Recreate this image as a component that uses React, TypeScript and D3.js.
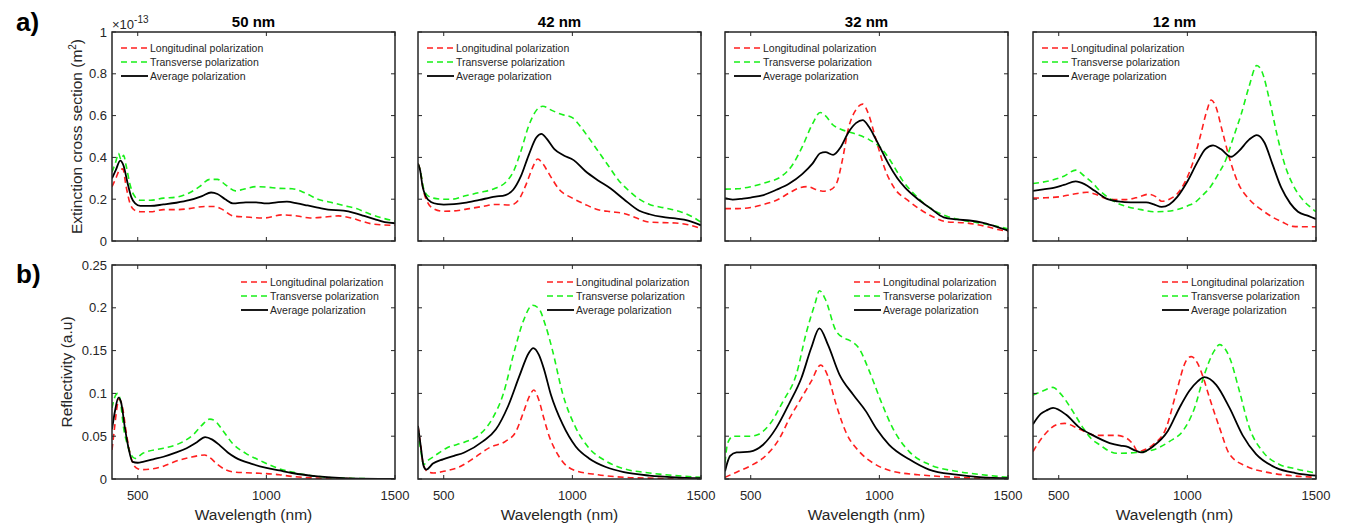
import React from "react";
import * as d3 from "d3";

// ---------- data ----------
const panelTitles = ["50 nm", "42 nm", "32 nm", "12 nm"];
const seriesNames = ["Longitudinal polarization", "Transverse polarization", "Average polarization"];
const xTicks = [500, 1000, 1500];
const xTickLabels = ["500", "1000", "1500"];
const extTicks = [0, 0.2, 0.4, 0.6, 0.8, 1];
const extTickLabels = ["0", "0.2", "0.4", "0.6", "0.8", "1"];
const refTicks = [0, 0.05, 0.1, 0.15, 0.2, 0.25];
const refTickLabels = ["0", "0.05", "0.1", "0.15", "0.2", "0.25"];

// Extinction cross section (x1e-13 m^2)
const ext50L = [[400,0.26],[415,0.30],[430,0.34],[442,0.345],[455,0.26],[470,0.18],[485,0.15],[510,0.14],[550,0.14],[600,0.15],[650,0.15],[700,0.155],[760,0.165],[800,0.165],[830,0.15],[870,0.12],[920,0.115],[990,0.11],[1060,0.125],[1120,0.12],[1170,0.11],[1230,0.115],[1280,0.12],[1330,0.11],[1370,0.095],[1420,0.08],[1500,0.075]];
const ext50T = [[400,0.33],[415,0.38],[425,0.42],[435,0.39],[445,0.41],[455,0.36],[470,0.27],[485,0.22],[510,0.195],[550,0.195],[600,0.205],[650,0.21],[700,0.23],[740,0.26],[780,0.295],[810,0.295],[840,0.27],[880,0.24],[920,0.25],[960,0.26],[1000,0.258],[1050,0.252],[1100,0.25],[1150,0.23],[1200,0.2],[1250,0.185],[1300,0.17],[1350,0.155],[1400,0.13],[1450,0.11],[1500,0.095]];
const ext50A = [[400,0.30],[415,0.34],[432,0.385],[445,0.36],[460,0.28],[475,0.21],[490,0.18],[510,0.168],[550,0.168],[600,0.175],[650,0.183],[700,0.195],[750,0.215],[785,0.232],[810,0.225],[840,0.2],[870,0.18],[920,0.185],[960,0.185],[1000,0.18],[1040,0.185],[1080,0.188],[1120,0.18],[1160,0.17],[1200,0.16],[1240,0.15],[1300,0.145],[1340,0.135],[1380,0.12],[1420,0.105],[1460,0.09],[1500,0.085]];

const ext42L = [[400,0.37],[410,0.33],[420,0.25],[435,0.19],[460,0.155],[500,0.142],[550,0.145],[600,0.155],[650,0.165],[700,0.175],[760,0.172],[790,0.195],[820,0.27],[845,0.35],[865,0.392],[885,0.37],[910,0.32],[950,0.245],[1000,0.205],[1050,0.175],[1100,0.15],[1150,0.14],[1200,0.132],[1250,0.11],[1290,0.092],[1350,0.088],[1400,0.086],[1450,0.078],[1500,0.06]];
const ext42T = [[400,0.37],[410,0.33],[420,0.26],[435,0.22],[460,0.205],[500,0.2],[530,0.2],[580,0.215],[640,0.232],[700,0.252],[740,0.28],[770,0.33],[800,0.43],[830,0.55],[860,0.625],[885,0.645],[920,0.625],[960,0.605],[1000,0.59],[1030,0.55],[1060,0.5],[1100,0.43],[1140,0.36],[1180,0.29],[1220,0.24],[1260,0.2],[1300,0.175],[1360,0.158],[1420,0.14],[1460,0.12],[1500,0.09]];
const ext42A = [[400,0.37],[408,0.34],[418,0.26],[430,0.215],[450,0.187],[480,0.176],[500,0.174],[540,0.176],[580,0.182],[640,0.197],[700,0.212],[740,0.22],[770,0.245],[800,0.31],[830,0.41],[860,0.495],[880,0.513],[900,0.49],[930,0.44],[965,0.41],[1005,0.387],[1050,0.335],[1100,0.29],[1150,0.25],[1200,0.2],[1260,0.145],[1300,0.128],[1350,0.115],[1400,0.108],[1450,0.098],[1500,0.075]];

const ext32L = [[400,0.155],[450,0.155],[500,0.16],[550,0.175],[600,0.195],[650,0.23],[690,0.255],[720,0.26],[750,0.248],[780,0.238],[810,0.245],[835,0.28],[855,0.38],[880,0.54],[910,0.63],[935,0.655],[960,0.6],[980,0.515],[1000,0.43],[1020,0.35],[1060,0.25],[1110,0.195],[1160,0.15],[1210,0.115],[1260,0.092],[1340,0.086],[1420,0.068],[1460,0.055],[1500,0.046]];
const ext32T = [[400,0.248],[450,0.25],[500,0.26],[560,0.28],[620,0.31],[660,0.36],[700,0.45],[740,0.56],[770,0.615],[790,0.6],[820,0.555],[850,0.535],[900,0.515],[960,0.485],[1010,0.44],[1040,0.39],[1060,0.35],[1090,0.29],[1120,0.245],[1160,0.195],[1210,0.148],[1260,0.12],[1300,0.105],[1380,0.088],[1440,0.075],[1500,0.058]];
const ext32A = [[400,0.205],[430,0.198],[470,0.203],[500,0.208],[550,0.22],[600,0.245],[650,0.275],[700,0.32],[740,0.37],[770,0.42],[790,0.425],[820,0.412],[850,0.45],[880,0.52],[910,0.565],[935,0.578],[960,0.545],[985,0.49],[1010,0.43],[1035,0.37],[1070,0.3],[1100,0.255],[1150,0.2],[1200,0.155],[1250,0.113],[1300,0.103],[1350,0.098],[1400,0.088],[1450,0.07],[1500,0.05]];

const ext12L = [[400,0.205],[450,0.207],[500,0.211],[560,0.225],[610,0.233],[640,0.225],[680,0.205],[720,0.198],[760,0.198],[810,0.21],[850,0.224],[880,0.21],[900,0.19],[930,0.2],[960,0.225],[990,0.28],[1020,0.37],[1050,0.5],[1075,0.62],[1093,0.675],[1110,0.645],[1135,0.53],[1165,0.39],[1200,0.27],[1240,0.2],[1290,0.148],[1330,0.115],[1370,0.09],[1410,0.07],[1460,0.068],[1500,0.068]];
const ext12T = [[400,0.275],[470,0.29],[520,0.31],[566,0.339],[600,0.31],[630,0.28],[660,0.24],[690,0.21],[730,0.18],[770,0.163],[820,0.15],[870,0.14],[920,0.142],[960,0.15],[1000,0.168],[1030,0.185],[1060,0.22],[1090,0.26],[1120,0.32],[1150,0.39],[1180,0.5],[1210,0.61],[1240,0.74],[1270,0.84],[1290,0.81],[1320,0.67],[1350,0.5],[1380,0.36],[1410,0.27],[1450,0.195],[1480,0.16],[1500,0.14]];
const ext12A = [[400,0.24],[440,0.247],[480,0.254],[520,0.268],[566,0.285],[600,0.272],[640,0.24],[690,0.2],[730,0.19],[780,0.185],[840,0.185],[870,0.175],[900,0.163],[930,0.175],[960,0.21],[1000,0.285],[1040,0.38],[1070,0.44],[1100,0.458],[1130,0.44],[1170,0.403],[1200,0.43],[1240,0.485],[1270,0.507],[1300,0.47],[1330,0.37],[1365,0.255],[1400,0.18],[1430,0.14],[1470,0.12],[1500,0.105]];

// Reflectivity (a.u)
const ref50L = [[400,0.034],[410,0.06],[420,0.085],[428,0.093],[440,0.085],[455,0.055],[470,0.03],[485,0.016],[500,0.012],[520,0.011],[560,0.012],[600,0.015],[650,0.021],[700,0.025],[760,0.028],[780,0.025],[810,0.017],[840,0.011],[880,0.008],[950,0.007],[1050,0.005],[1100,0.003],[1200,0.001],[1300,0.0005],[1500,0]];
const ref50T = [[400,0.083],[410,0.095],[422,0.1],[432,0.092],[445,0.06],[460,0.04],[475,0.028],[490,0.024],[520,0.03],[600,0.036],[650,0.04],[690,0.046],[720,0.053],[750,0.063],[780,0.07],[800,0.068],[830,0.057],[870,0.041],[920,0.03],[980,0.021],[1050,0.012],[1100,0.008],[1200,0.003],[1300,0.001],[1500,0]];
const ref50A = [[400,0.058],[412,0.08],[425,0.095],[435,0.09],[450,0.06],[465,0.035],[480,0.02],[500,0.019],[520,0.02],[560,0.023],[600,0.026],[650,0.031],[690,0.036],[730,0.043],[762,0.049],[790,0.046],[820,0.039],[850,0.031],[880,0.025],[940,0.018],[1000,0.013],[1050,0.01],[1100,0.007],[1200,0.003],[1300,0.001],[1500,0]];

const ref42L = [[400,0.062],[410,0.04],[420,0.018],[435,0.009],[460,0.007],[500,0.009],[560,0.014],[620,0.025],[680,0.037],[740,0.044],[780,0.055],[810,0.078],[835,0.098],[850,0.104],[870,0.092],[890,0.07],[910,0.05],[935,0.033],[960,0.021],[1010,0.01],[1100,0.005],[1200,0.002],[1300,0.001],[1500,0]];
const ref42T = [[400,0.056],[410,0.035],[422,0.017],[440,0.022],[460,0.026],[510,0.036],[580,0.043],[640,0.052],[690,0.071],[730,0.098],[775,0.15],[810,0.185],[845,0.203],[870,0.199],[895,0.18],[923,0.15],[962,0.1],[1013,0.06],[1065,0.036],[1130,0.021],[1200,0.012],[1300,0.007],[1400,0.004],[1500,0.002]];
const ref42A = [[400,0.062],[410,0.04],[422,0.015],[432,0.011],[458,0.018],[497,0.023],[540,0.027],[580,0.031],[652,0.044],[703,0.058],[750,0.085],[795,0.121],[830,0.147],[848,0.153],[870,0.145],[890,0.128],[916,0.099],[962,0.064],[1013,0.038],[1065,0.024],[1130,0.014],[1200,0.008],[1300,0.004],[1400,0.002],[1500,0.001]];

const ref32L = [[400,0.002],[445,0.008],[497,0.015],[561,0.028],[613,0.048],[651,0.071],[690,0.091],[735,0.114],[772,0.133],[800,0.12],[832,0.087],[871,0.054],[922,0.032],[974,0.019],[1051,0.009],[1150,0.005],[1300,0.002],[1500,0]];
const ref32T = [[400,0.019],[406,0.035],[415,0.045],[432,0.05],[470,0.05],[500,0.05],[529,0.052],[574,0.064],[626,0.091],[677,0.122],[716,0.171],[750,0.205],[767,0.22],[790,0.21],[830,0.174],[860,0.165],[884,0.162],[922,0.152],[961,0.126],[1006,0.091],[1051,0.06],[1116,0.032],[1193,0.017],[1300,0.009],[1400,0.005],[1500,0.002]];
const ref32A = [[400,0.009],[410,0.02],[420,0.027],[445,0.031],[497,0.032],[548,0.04],[600,0.06],[651,0.089],[697,0.118],[735,0.153],[767,0.176],[800,0.157],[845,0.122],[897,0.099],[948,0.079],[990,0.058],[1038,0.04],[1116,0.023],[1193,0.011],[1300,0.005],[1400,0.002],[1500,0.001]];

const ref12L = [[400,0.032],[440,0.05],[497,0.064],[523,0.065],[581,0.058],[646,0.051],[724,0.051],[762,0.048],[790,0.04],[808,0.032],[840,0.035],[866,0.04],[918,0.06],[956,0.1],[995,0.138],[1015,0.143],[1040,0.135],[1060,0.12],[1086,0.095],[1125,0.06],[1164,0.029],[1228,0.015],[1306,0.008],[1400,0.004],[1500,0.002]];
const ref12T = [[400,0.098],[440,0.103],[478,0.107],[503,0.101],[555,0.079],[594,0.06],[630,0.046],[659,0.04],[700,0.032],[724,0.03],[801,0.031],[866,0.034],[931,0.044],[982,0.056],[1028,0.083],[1066,0.122],[1105,0.15],[1125,0.157],[1164,0.142],[1202,0.103],[1241,0.06],[1293,0.032],[1358,0.017],[1420,0.012],[1500,0.007]];
const ref12A = [[400,0.064],[430,0.076],[452,0.08],[478,0.083],[529,0.075],[581,0.06],[633,0.051],[698,0.042],[740,0.039],[762,0.038],[800,0.033],[820,0.031],[866,0.038],[924,0.056],[969,0.083],[1008,0.103],[1040,0.114],[1066,0.119],[1112,0.11],[1164,0.083],[1215,0.051],[1267,0.029],[1345,0.013],[1420,0.007],[1500,0.004]];

const extSeries = [[ext50L, ext50T, ext50A], [ext42L, ext42T, ext42A], [ext32L, ext32T, ext32A], [ext12L, ext12T, ext12A]];
const refSeries = [[ref50L, ref50T, ref50A], [ref42L, ref42T, ref42A], [ref32L, ref32T, ref32A], [ref12L, ref12T, ref12A]];

// ---------- layout / style ----------
const W = 1348, H = 527;
const panelLefts = [112, 418, 725, 1033];
const panelW = 283;
const topRow = { y0: 32, y1: 241 };
const botRow = { y0: 265, y1: 479 };
const FONT = "'Liberation Sans', Arial, Helvetica, sans-serif";
const AX = "#262626";
const styles = [
  { color: "#ff1f1f", dash: "6,4", width: 1.6 },
  { color: "#19f019", dash: "6,4", width: 1.6 },
  { color: "#000000", dash: null, width: 1.8 },
];
const TICK = 4;

function Panel({ idx, row, data, yDomain, yTicks, yTickLabels, showX, legendPos }) {
  const left = panelLefts[idx];
  const x = d3.scaleLinear().domain([400, 1500]).range([left, left + panelW]);
  const y = d3.scaleLinear().domain(yDomain).range([row.y1, row.y0]);
  const line = d3.line().x((d) => x(d[0])).y((d) => y(d[1])).curve(d3.curveMonotoneX);
  const clipId = `clip-${idx}-${row.y0}`;
  const legX = legendPos === "left" ? left + 9 : left + 129;
  const legY = legendPos === "left" ? row.y0 + 16 : row.y0 + 17;
  return (
    <g>
      <defs>
        <clipPath id={clipId}>
          <rect x={left} y={row.y0} width={panelW} height={row.y1 - row.y0} />
        </clipPath>
      </defs>
      <rect x={left} y={row.y0} width={panelW} height={row.y1 - row.y0} fill="#fff" />
      <g clipPath={`url(#${clipId})`}>
        {data.map((s, i) => (
          <path key={i} d={line(s)} fill="none" stroke={styles[i].color} strokeWidth={styles[i].width}
            strokeDasharray={styles[i].dash || undefined} strokeLinejoin="round" />
        ))}
      </g>
      {/* ticks */}
      {xTicks.map((t) => (
        <g key={"xt" + t}>
          <line x1={x(t)} x2={x(t)} y1={row.y1} y2={row.y1 - TICK} stroke={AX} strokeWidth={1} />
          <line x1={x(t)} x2={x(t)} y1={row.y0} y2={row.y0 + TICK} stroke={AX} strokeWidth={1} />
        </g>
      ))}
      {yTicks.map((t) => (
        <g key={"yt" + t}>
          <line x1={left} x2={left + TICK} y1={y(t)} y2={y(t)} stroke={AX} strokeWidth={1} />
          <line x1={left + panelW} x2={left + panelW - TICK} y1={y(t)} y2={y(t)} stroke={AX} strokeWidth={1} />
        </g>
      ))}
      <rect x={left} y={row.y0} width={panelW} height={row.y1 - row.y0} fill="none" stroke={AX} strokeWidth={1.5} />
      {idx === 0 && yTicks.map((t, i) => (
        <text key={"yl" + t} x={left - 5} y={y(t)} dy="0.36em" textAnchor="end" fontSize={13} fill={AX} fontFamily={FONT}>
          {yTickLabels[i]}
        </text>
      ))}
      {showX && xTicks.map((t, i) => (
        <text key={"xl" + t} x={x(t)} y={row.y1 + 21} textAnchor="middle" fontSize={13} fill={AX} fontFamily={FONT}>
          {xTickLabels[i]}
        </text>
      ))}
      {showX && (
        <text x={left + panelW / 2} y={row.y1 + 41} textAnchor="middle" fontSize={15.5} fill={AX} fontFamily={FONT}>
          Wavelength (nm)
        </text>
      )}
      {/* legend */}
      {seriesNames.map((n, i) => (
        <g key={"lg" + i}>
          <line x1={legX} x2={legX + 27} y1={legY + i * 14} y2={legY + i * 14} stroke={styles[i].color}
            strokeWidth={styles[i].width} strokeDasharray={styles[i].dash || undefined} />
          <text x={legX + 29} y={legY + i * 14} dy="0.35em" fontSize={10.5} fill={AX} fontFamily={FONT}>{n}</text>
        </g>
      ))}
    </g>
  );
}

export default function App() {
  return (
    <svg width={W} height={H} style={{ position: "absolute", left: 0, top: 0, background: "#fff" }}>
      <rect x={0} y={0} width={W} height={H} fill="#fff" />
      <text x={16} y={31} fontSize={26} fontWeight="bold" fontFamily={FONT} fill="#000">a)</text>
      <text x={16} y={283} fontSize={26} fontWeight="bold" fontFamily={FONT} fill="#000">b)</text>
      {panelTitles.map((t, i) => (
        <text key={t} x={panelLefts[i] + panelW / 2} y={27} textAnchor="middle" fontSize={15} fontWeight="bold" fontFamily={FONT} fill="#000">{t}</text>
      ))}
      <text x={112} y={29} fontSize={13} fill={AX} fontFamily={FONT}>
        ×10<tspan fontSize={10} dy={-6}>-13</tspan>
      </text>
      <text transform={`translate(82,${(topRow.y0 + topRow.y1) / 2}) rotate(-90)`} textAnchor="middle" fontSize={15.5} fill={AX} fontFamily={FONT}>
        Extinction cross section (m<tspan fontSize={10} dy={-6}>2</tspan><tspan dy={6}>)</tspan>
      </text>
      <text transform={`translate(72,${(botRow.y0 + botRow.y1) / 2}) rotate(-90)`} textAnchor="middle" fontSize={15.5} fill={AX} fontFamily={FONT}>
        Reflectivity (a.u)
      </text>
      {panelLefts.map((_, i) => (
        <Panel key={"top" + i} idx={i} row={topRow} data={extSeries[i]} yDomain={[0, 1]} yTicks={extTicks}
          yTickLabels={extTickLabels} showX={false} legendPos="left" />
      ))}
      {panelLefts.map((_, i) => (
        <Panel key={"bot" + i} idx={i} row={botRow} data={refSeries[i]} yDomain={[0, 0.25]} yTicks={refTicks}
          yTickLabels={refTickLabels} showX={true} legendPos="right" />
      ))}
    </svg>
  );
}
